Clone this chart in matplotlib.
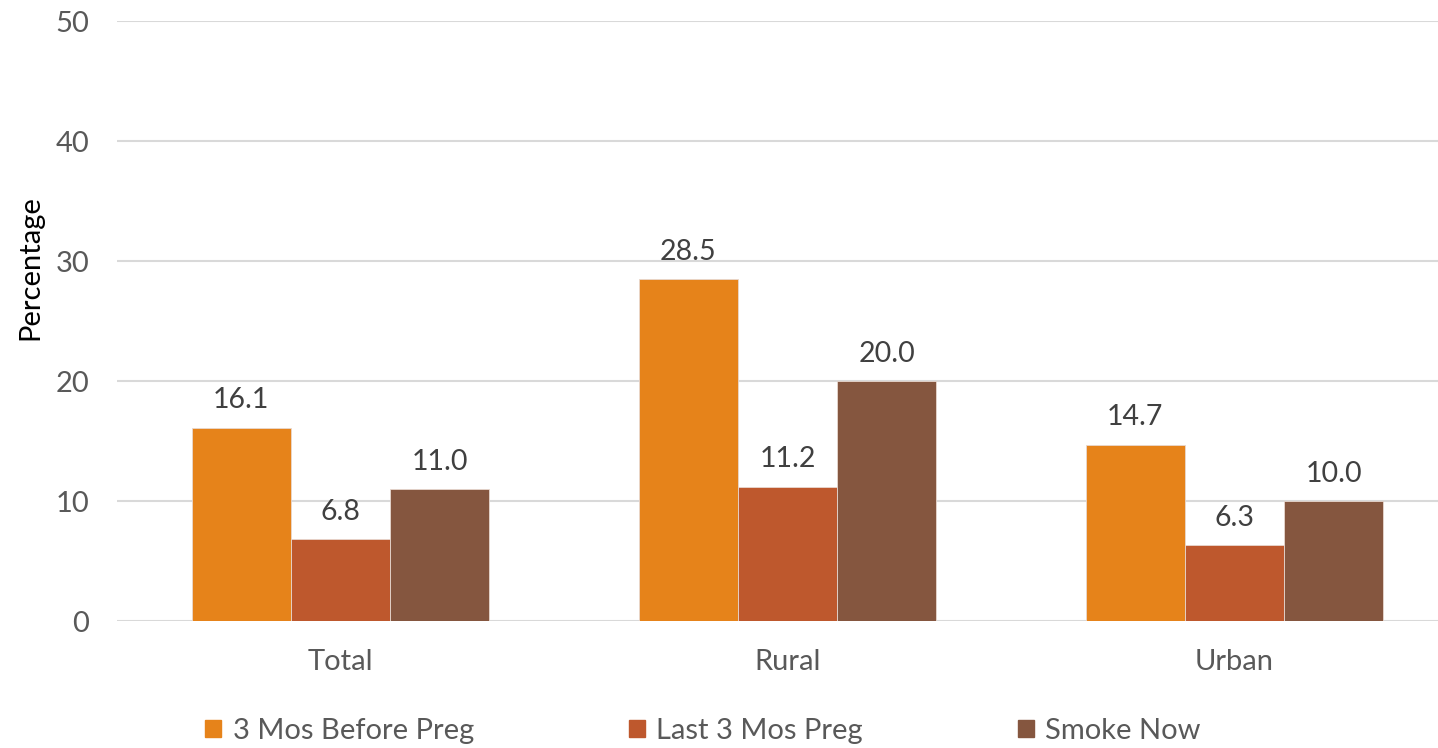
import matplotlib.pyplot as plt
import numpy as np
from matplotlib.patches import Patch

plt.rcParams["font.family"] = ["Lato", "DejaVu Sans"]

categories = ["Total", "Rural", "Urban"]
series_names = ["3 Mos Before Preg", "Last 3 Mos Preg", "Smoke Now"]
before_preg = [16.1, 28.5, 14.7]
last_3_mos = [6.8, 11.2, 6.3]
smoke_now = [11.0, 20.0, 10.0]
colors = ["#E6831A", "#BE582D", "#85563F"]
yticks = [0, 10, 20, 30, 40, 50]

text_grey = "#595959"

fig = plt.figure(figsize=(14.38, 7.48), dpi=100)
ax = fig.add_axes([117 / 1438, 1 - 621 / 748, 1 - 117 / 1438, 600 / 748])

x = np.arange(len(categories))
width = 0.222
for i, (vals, name) in enumerate(zip([before_preg, last_3_mos, smoke_now], series_names)):
    bars = ax.bar(x + (i - 1) * width, vals, width, color=colors[i], edgecolor="#e8d8d0", linewidth=0.6, label=name, zorder=3)
    for b, v in zip(bars, vals):
        ax.text(b.get_x() + b.get_width() / 2, v + 1.2, f"{v:.1f}", ha="center", va="bottom", fontsize=20.5, color="#404040")

ax.set_ylim(0, 50)
ax.set_xlim(-0.5, 2.455)
ax.set_yticks(yticks)
ax.set_xticks(x)
ax.set_xticklabels(categories)
ax.grid(axis="y", color="#d9d9d9", linewidth=1.5, zorder=0)
for s in ax.spines.values():
    s.set_visible(False)
ax.tick_params(axis="both", length=0, labelsize=21, colors=text_grey)
ax.tick_params(axis="y", pad=20)
ax.tick_params(axis="x", pad=20)
fig.text(30 / 1438, 1 - 268 / 748, "Percentage", rotation=90, ha="center", va="center", fontsize=21, color="black")

handles = [Patch(color=c, label=n) for c, n in zip(colors, series_names)]
fig.legend(handles=handles, loc="center", bbox_to_anchor=(703 / 1438, 1 - 731 / 748), ncol=3, frameon=False,
           fontsize=21, handlelength=0.55, handleheight=0.55, handletextpad=0.4, columnspacing=5.3,
           labelcolor=text_grey)

plt.savefig("out.png", dpi=100)
